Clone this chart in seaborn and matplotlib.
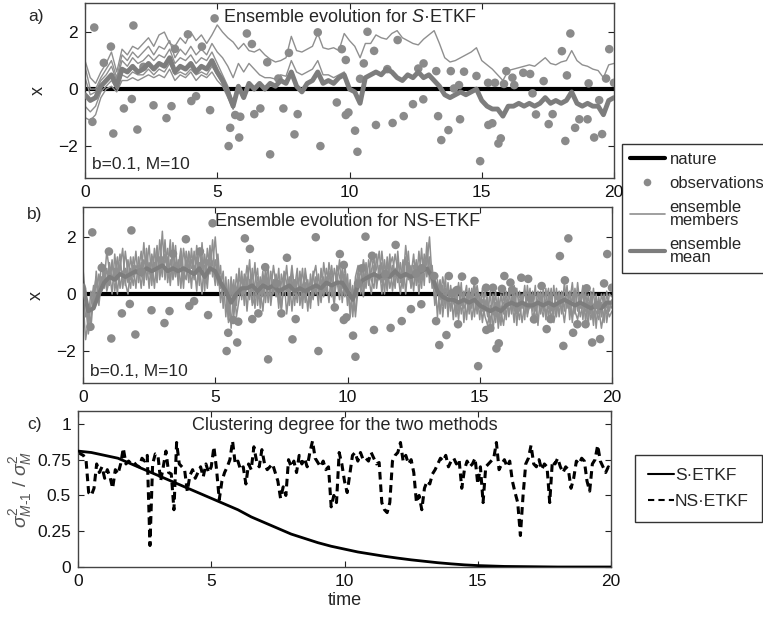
import numpy as np
import pandas as pd
import seaborn as sns
import matplotlib
matplotlib.use("Agg")
import matplotlib.pyplot as plt
from matplotlib.lines import Line2D

sns.set_theme(style="white")
plt.rcParams['font.family'] = ['Liberation Sans', 'DejaVu Sans']
plt.rcParams['mathtext.fontset'] = 'custom'
plt.rcParams['mathtext.rm'] = 'Liberation Sans'
plt.rcParams['mathtext.it'] = 'Liberation Sans:italic'

# ---------------- data ----------------
nature_t = [0.0, 20.0]
nature_x = [0.0, 0.0]

obs_t = [0.28, 0.35, 0.71, 0.98, 1.07, 1.47, 1.77, 1.83, 1.98, 2.21, 2.59, 3.08, 3.27, 3.40,
         3.89, 4.02, 4.20, 4.42, 4.73, 4.90, 5.43, 5.49, 5.68, 5.83, 5.87, 6.12, 6.31, 6.40,
         6.63, 6.89, 7.00, 7.31, 7.50, 7.71, 7.92, 8.04, 8.80, 8.90, 9.52, 9.71, 9.86, 9.86,
         9.96, 10.21, 10.30, 10.40, 10.54, 10.68, 10.93, 11.00, 11.43, 11.63, 11.82, 12.05,
         12.40, 12.60, 12.79, 12.80, 13.28, 13.35, 13.47, 13.74, 13.83, 13.95, 14.14, 14.18,
         14.33, 14.80, 14.94, 15.24, 15.25, 15.40, 15.50, 15.63, 15.72, 15.84, 15.93, 16.16,
         16.23, 16.57, 16.83, 16.92, 17.05, 17.34, 17.53, 17.68, 18.03, 18.16, 18.22, 18.35,
         18.53, 18.69, 19.00, 19.04, 19.25, 19.44, 19.55, 19.70, 19.82, 20.00]
obs_x = [-1.15, 2.16, 0.92, 1.49, -1.56, -0.68, -0.35, 2.23, -1.42, 0.78, -0.57, -1.02, -0.60, 1.41,
         1.92, -0.42, -0.25, 1.49, -0.74, 2.48, -2.00, -1.36, -0.91, -1.70, -0.97, 1.95, 1.58, -0.88,
         -0.68, 0.94, -2.29, 0.37, -0.68, 1.27, -1.59, -0.88, 1.99, -2.00, -0.47, 1.40, 1.02, -0.91,
         -0.82, -1.46, -2.20, 0.36, 0.90, 2.01, 1.34, -1.26, 0.70, -1.19, 1.72, -0.95,
         -0.53, 0.72, -0.36, 0.90, 0.63, -0.95, -1.79, -1.44, 0.63, 0.02, 0.14, -1.06,
         0.61, 0.46, -2.53, 0.22, -1.26, -1.20, 0.22, -1.91, -1.73, 0.18, 0.63, 0.40,
         0.14, 0.57, 0.53, -0.15, -0.89, 0.28, -1.23, -0.88, 1.33, -1.82, 0.48, 1.95,
         -1.36, -1.06, -1.06, 0.20, -1.70, -0.39, -1.58, 0.37, 1.40, 0.22]

# S-ETKF ensemble (panel a), sampled every 0.2 time units
sa_mean = [-0.2, -0.4, -0.3, 0.1, 0.3, 0.5, 0.1, 0.7, 0.6, 0.8,
           0.6, 0.7, 0.9, 0.7, 0.9, 0.8, 1.1, 0.6, 0.8, 0.7,
           0.9, 0.6, 0.8, 0.7, 1.0, 0.6, 0.3, -0.1, -0.6, 0.1,
           -0.3, 0.2, 0.0, 0.2, 0.0, 0.2, 0.1, 0.3, 0.2, 0.6,
           0.1, -0.1, 0.2, 0.3, 0.6, 0.2, 0.3, 0.2, 0.4, 0.5,
           0.0, -0.1, -0.5, 0.4, 0.5, 0.6, 0.5, 0.7, 0.6, 0.4,
           0.3, 0.5, 0.4, 0.6, 0.4, 0.5, 0.3, 0.1, -0.2, -0.3,
           -0.2, -0.1, -0.2, -0.1, 0.0, -0.4, -0.6, -0.7, -0.7, -0.95,
           -0.6, -0.6, -0.5, -0.6, -0.5, -0.6, -0.5, -0.3, -0.5, -0.4,
           -0.5, -0.4, -0.1, -0.5, -0.6, -0.5, -0.6, -0.6, -0.9, -0.4,
           -0.3]
sa_member1 = [1.0, 0.4, 0.2, 0.6, 0.9, 1.3, 0.6, 1.4, 1.2, 1.5,
              1.4, 1.6, 1.8, 1.5, 1.9, 2.0, 1.6, 1.5, 1.8, 1.6,
              2.0, 1.7, 1.9, 1.6, 1.9, 2.25, 2.0, 1.8, 1.65, 1.4,
              1.6, 1.35, 1.3, 1.4, 1.2, 1.05, 0.95, 1.0, 1.1, 1.85,
              1.35, 1.3, 1.4, 1.5, 1.95, 1.45, 1.4, 1.45, 1.35, 1.95,
              1.7, 1.5, 1.1, 1.6, 1.6, 1.9, 1.8, 1.75, 1.95, 2.05,
              1.8, 1.7, 1.6, 1.55, 1.75, 1.9, 2.05, 1.6, 1.1, 0.95,
              1.0, 1.1, 1.2, 1.3, 1.45, 1.0, 0.85, 0.7, 0.5, 0.3,
              0.65, 0.7, 0.75, 0.8, 0.85, 0.8, 0.95, 1.1, 0.9, 0.85,
              0.95, 1.0, 1.35, 1.0, 0.85, 0.8, 0.7, 0.65, 0.4, 0.85,
              0.9]
sa_member2 = [0.8, 0.0, 0.0, 0.4, 0.7, 1.0, 0.4, 1.2, 1.0, 1.3,
              1.1, 1.3, 1.5, 1.2, 1.5, 1.4, 1.7, 1.1, 1.4, 1.2,
              1.5, 1.2, 1.4, 1.2, 1.6, 1.3, 1.1, 0.8, 0.4, 0.9,
              0.6, 0.9, 0.7, 0.5, 0.4, 0.4, 0.35, 0.5, 0.45, 1.0,
              0.6, 0.5, 0.6, 0.7, 1.0, 0.5, 0.5, 0.4, 0.5, 0.6,
              0.0]
sa_member3 = [-1.0, -1.1, -0.9, -0.3, 0.0, 0.1, -0.1, 0.3, 0.3, 0.4,
              0.3, 0.4, 0.5, 0.4, 0.5, 0.4, 0.7, 0.3, 0.5, 0.4,
              0.6, 0.3, 0.5, 0.4, 0.6, 0.3, 0.1, -0.3, -0.7, 0.0, -0.3]
sa_member4 = [0.4, -0.2, -0.1, 0.3, 0.5, 0.8, 0.3, 1.0, 0.8, 1.1,
              0.9, 1.0, 1.2, 1.0, 1.2, 1.1, 1.4, 0.9, 1.1, 1.0,
              1.2, 0.9, 1.1, 1.0, 1.3, 0.9, 0.5, 0.1, -0.5, 0.1, -0.3]
sa_member5 = [-0.6, -0.8, -0.6, -0.1, 0.1, 0.3, 0.0, 0.5, 0.4, 0.6,
              0.5, 0.5, 0.7, 0.5, 0.7, 0.6, 0.9, 0.5, 0.6, 0.5,
              0.7, 0.5, 0.6, 0.5, 0.8, 0.5, 0.2, -0.2, -0.7, 0.1, -0.3]

# NS-ETKF ensemble (panel b), members sampled every 0.1, mean every 0.2
nb_member1 = [0.9, -0.3, -1.4, -0.8, -0.2, 0.4, -0.1, 0.6, 0.2, 0.9,
              0.3, 1.2, 0.1, 0.8, 1.4, 0.2, 0.9, 0.4, 1.3, 0.6,
              1.5, 0.4, 1.1, 0.3, 1.6, 0.7, 1.2, 0.2, 1.4, 0.8,
              2.2, 0.5, 1.3, 0.4, 1.5, 0.6, 1.2, 0.2, 1.6, 0.9,
              1.3, 0.2, 1.5, 0.7, 1.1, 0.0, 1.4, 0.5, 1.7, 0.6,
              1.2, 0.3, 1.0, -0.5, 0.6, -0.9, 0.4, -0.6, 0.7, 0.0,
              0.8, -0.4, 0.6, -0.2, 0.9, -0.5, 0.4, 0.0, 0.8, -0.3,
              0.7, -0.4, 0.5, -0.1, 0.9, -0.5, 0.3, 0.1, 0.6, -0.6,
              0.5, -0.3, 0.8, -0.2, 0.4, -0.6, 0.7, 0.0, 0.5, -0.4,
              0.9, 0.0, 0.6, -0.3, 1.0, 0.1, 0.5, -0.2, 0.8, 0.2,
              0.4, -0.6, 0.3, -0.8, 0.2, 0.9, 0.1, 1.1, 0.3, 0.8,
              1.3, 0.2, 1.0, 0.0, 1.2, 0.3, 1.4, 0.1, 0.9, 0.4,
              1.1, 0.2, 1.3, 0.5, 1.0, 0.1, 1.2, 0.4, 1.6, 0.3,
              1.8, 0.4, 0.9, -0.2, 0.5, -0.7, 0.3, -0.5, 0.4, -0.6,
              0.2, -0.8, 0.3, -0.4, 0.1, -0.9, 0.2, -0.5, 0.3, -0.7,
              0.0, -1.0, -0.2, -0.8, 0.1, -1.3, -0.3, -0.9, 0.0, -0.7,
              0.1, -0.8, -0.1, -1.0, 0.2, -0.6, 0.0, -0.9, 0.3, -0.5,
              0.1, -1.0, -0.2, -0.7, 0.2, -0.9, 0.0, -0.6, 0.3, -0.8,
              0.0, -0.7, 0.4, -0.5, 0.1, -1.0, 0.2, -0.6, 0.0, -0.9,
              0.1, -0.8, -0.2, -1.1, 0.0, -0.7, -0.3, -1.0, 0.1, -0.6,
              -0.2]
nb_member2 = [-0.2, -1.6, -0.9, 0.1, -0.5, 0.8, 0.0, 1.1, 0.4, 1.5,
              0.8, 0.0, 1.4, 0.5, 0.9, 1.6, 0.3, 1.2, 0.5, 1.0,
              0.2, 1.3, 0.6, 1.8, 0.5, 1.1, 0.3, 1.6, 0.7, 1.3,
              0.6, 1.9, 0.4, 1.2, 0.7, 1.7, 0.3, 1.4, 0.5, 1.2,
              0.4, 1.6, 0.6, 1.3, 0.3, 1.8, 0.4, 1.2, 0.7, 1.9,
              0.5, 1.4, 0.2, 0.8, -0.8, 0.5, -1.2, 0.3, -0.4, 0.9,
              -0.2, 0.7, -0.6, 0.5, 0.1, 1.1, -0.4, 0.6, -0.1, 0.9,
              -0.3, 0.8, 0.0, 0.6, -0.5, 0.7, 0.2, 1.0, -0.2, 0.5,
              -0.4, 0.6, 0.1, 0.9, -0.3, 0.5, -0.5, 0.8, 0.0, 0.7,
              -0.2, 1.1, 0.3, 0.8, -0.1, 0.9, 0.4, 1.2, -0.3, 0.7,
              -0.4, 0.5, -0.8, 0.6, 1.0, 0.0, 0.8, 0.2, 1.2, 0.5,
              0.2, 1.4, 0.5, 1.1, 0.0, 1.3, 0.6, 1.0, 0.2, 1.5,
              0.4, 1.2, 0.0, 1.1, 0.6, 1.4, 0.3, 1.5, 0.5, 1.2,
              0.6, 1.3, 0.2, 0.6, -0.8, 0.4, -0.4, 0.6, -0.8, 0.3,
              -0.9, 0.1, -0.6, 0.4, -1.0, 0.0, -0.5, 0.2, -0.8, 0.1,
              -0.9, 0.2, -0.6, -0.1, -1.2, 0.0, -0.8, -0.3, -1.1, 0.1,
              -0.9, 0.2, -0.7, 0.0, -1.1, 0.1, -0.5, 0.3, -0.8, 0.0,
              -0.6, 0.3, -1.1, 0.0, -0.6, 0.2, -0.9, 0.1, -0.7, 0.2,
              -0.8, 0.1, -0.6, 0.3, -0.9, 0.0, -0.7, 0.4, -0.5, 0.1,
              -1.0, 0.0, -0.7, 0.2, -1.2, -0.1, -0.8, 0.0, -1.0, -0.3,
              -0.5]
nb_member3 = [0.5, 0.2, -1.1, -0.4, 0.3, -0.2, 0.7, 0.1, 1.0, 0.2,
              1.1, 0.5, 0.9, 0.0, 1.1, 0.5, 1.5, 0.7, 0.2, 1.3,
              0.7, 1.0, 0.2, 1.2, 0.9, 1.7, 0.5, 1.1, 0.4, 1.9,
              1.0, 1.4, 0.8, 1.9, 0.5, 1.0, 0.9, 1.6, 0.8, 0.5,
              1.5, 0.9, 1.0, 0.1, 1.6, 0.9, 1.0, 0.2, 1.4, 1.0,
              2.0, 0.7, 0.6, 0.1, 0.3, -0.5, 0.6, -0.8, 0.2, 0.5,
              0.4, 0.2, 1.0, 0.3, -0.3, 0.4, 0.9, -0.5, 0.5, 0.3,
              0.4, 0.1, 1.0, 0.3, 0.2, -0.6, 0.8, 0.4, -0.4, 0.8,
              0.2, 0.9, -0.4, 0.3, 0.7, 0.1, -0.3, 0.6, 1.0, 0.1,
              0.5, -0.1, 0.9, 0.4, 0.3, -0.4, 1.0, 0.6, 0.2, 1.0,
              0.1, 0.3, -0.2, -0.6, 0.6, 0.3, 1.2, 0.7, 0.5, 1.4,
              0.6, 0.9, 1.5, 0.4, 0.8, 0.1, 1.0, 1.3, 0.6, 1.1,
              0.7, 0.4, 1.7, 0.8, 0.3, 1.0, 0.7, 0.9, 0.2, 1.4,
              1.0, 2.0, 0.5, 0.2, 0.3, -0.2, 0.6, 0.0, -0.4, 0.2,
              -0.3, -0.5, 0.4, -0.7, -0.2, 0.3, -0.7, -0.1, 0.4, -0.4,
              -0.5, -0.2, -0.8, -1.1, -0.4, -0.7, 0.1, -1.2, -0.5, -0.3,
              -0.5, -0.2, 0.2, -0.6, -0.3, -0.9, -0.2, 0.1, -0.7, -0.4,
              -0.3, -0.6, 0.1, -0.4, -0.8, -0.2, 0.2, -0.9, -0.4, -0.1,
              -0.4, -0.5, -0.2, 0.2, -0.5, -0.8, -0.1, 0.0, -0.8, -0.4,
              -0.6, -0.3, -0.9, -0.4, -0.6, -0.9, 0.0, -0.4, -0.7, 0.0,
              -0.1]
nb_member4 = [0.0, -0.8, -0.5, -1.2, 0.0, 0.6, -0.4, 0.5, 0.8, 0.1,
              0.5, 1.0, 0.6, 1.3, 0.2, 0.8, 0.4, 0.0, 0.9, 0.3,
              1.0, 0.8, 1.5, 0.4, 1.3, 0.2, 1.4, 0.9, 1.7, 0.5,
              1.3, 1.1, 1.6, 0.3, 1.8, 1.0, 0.6, 1.2, 0.2, 1.5,
              0.9, 1.2, 0.5, 1.7, 0.6, 1.3, 0.1, 1.6, 0.9, 1.1,
              0.3, 1.0, -0.3, 0.4, 0.2, -1.0, 0.0, 0.5, -0.8, -0.2,
              0.6, 0.0, 0.3, 1.2, -0.4, -0.1, 0.6, 0.2, -0.6, 0.5,
              0.9, -0.2, 0.3, 0.7, -0.3, 0.4, 0.6, -0.7, 0.2, 1.0,
              0.0, 0.4, 0.6, -0.5, 0.9, 0.2, 0.4, -0.2, 0.6, 0.3,
              -0.3, 0.6, 0.0, 1.1, 0.5, -0.2, 0.7, 0.1, 0.9, -0.1,
              0.7, -0.8, 0.1, 0.2, 0.8, 0.4, -0.1, 0.9, 0.6, 0.0,
              1.0, 0.4, 0.6, 1.5, 0.5, 1.1, 0.2, 0.7, 1.4, 0.8,
              0.0, 0.9, 0.6, 1.5, 0.2, 0.7, 1.1, 0.0, 1.0, 0.8,
              1.4, 0.9, 1.0, -0.4, 0.1, 0.5, -0.8, 0.2, 0.0, -0.5,
              0.0, -0.2, -0.9, 0.2, -0.5, -0.3, 0.1, -0.9, -0.2, 0.3,
              -0.3, -0.6, 0.1, -0.4, -0.9, -0.6, -1.0, -0.1, -0.6, -1.1,
              -0.2, -0.6, -0.4, 0.3, -0.7, -0.2, -1.0, -0.3, -0.5, 0.2,
              -0.9, -0.4, -0.2, 0.1, -0.4, -0.6, -0.5, 0.2, -1.0, -0.5,
              0.1, -0.3, -1.0, -0.2, -0.3, 0.4, -0.6, -0.9, -0.3, 0.3,
              -0.4, -1.1, 0.1, -0.8, -0.3, -0.5, -1.2, -0.6, -0.4, -0.8,
              -0.6]
nb_mean = [0.3, -0.6, -0.5, 0.0, 0.4, 0.6, 0.5, 0.7, 0.6, 0.7,
           0.8, 0.7, 0.9, 0.8, 0.9, 1.0, 0.8, 0.9, 0.8, 0.9,
           0.8, 0.7, 0.9, 0.6, 0.9, 0.8, 0.4, 0.1, -0.3, 0.0,
           0.2, 0.2, 0.3, 0.1, 0.3, 0.2, 0.3, 0.1, 0.2, 0.3,
           0.1, 0.2, 0.1, 0.2, 0.3, 0.2, 0.4, 0.3, 0.4, 0.4,
           0.1, -0.2, 0.3, 0.5, 0.6, 0.7, 0.6, 0.7, 0.6, 0.8,
           0.6, 0.7, 0.6, 0.7, 0.8, 0.9, 0.6, 0.1, -0.1, -0.2,
           -0.2, -0.3, -0.2, -0.3, -0.2, -0.4, -0.5, -0.6, -0.5, -0.6,
           -0.4, -0.3, -0.4, -0.3, -0.4, -0.4, -0.3, -0.4, -0.3, -0.4,
           -0.3, -0.2, -0.3, -0.4, -0.3, -0.4, -0.5, -0.4, -0.5, -0.3,
           -0.3]

# clustering degree (panel c)
s_etkf_cd = [0.81, 0.80, 0.78, 0.76, 0.72, 0.68, 0.64, 0.60, 0.56, 0.52,
             0.48, 0.44, 0.40, 0.35, 0.31, 0.27, 0.23, 0.20, 0.17, 0.145,
             0.125, 0.105, 0.09, 0.075, 0.062, 0.05, 0.04, 0.03, 0.022, 0.015,
             0.01, 0.007, 0.004, 0.003, 0.002, 0.001, 0.0, 0.0, 0.0, 0.0,
             0.0]  # every 0.5
ns_etkf_cd = [0.80, 0.79, 0.78, 0.75, 0.52, 0.50, 0.55, 0.72, 0.66, 0.70,
              0.62, 0.68, 0.63, 0.55, 0.68, 0.65, 0.72, 0.83, 0.72, 0.74,
              0.72, 0.73, 0.71, 0.70, 0.76, 0.74, 0.78, 0.15, 0.72, 0.79,
              0.78, 0.60, 0.70, 0.81, 0.66, 0.65, 0.40, 0.87, 0.72, 0.70,
              0.68, 0.53, 0.64, 0.68, 0.62, 0.66, 0.70, 0.63, 0.72, 0.66,
              0.70, 0.84, 0.68, 0.47, 0.60, 0.66, 0.70, 0.75, 0.88, 0.72,
              0.74, 0.68, 0.70, 0.58, 0.72, 0.68, 0.84, 0.74, 0.70, 0.82,
              0.72, 0.68, 0.70, 0.72, 0.66, 0.60, 0.48, 0.56, 0.50, 0.75,
              0.70, 0.74, 0.66, 0.78, 0.72, 0.76, 0.70, 0.80, 0.88, 0.76,
              0.73, 0.70, 0.74, 0.68, 0.70, 0.42, 0.50, 0.45, 0.80, 0.72,
              0.60, 0.52, 0.65, 0.78, 0.80, 0.74, 0.80, 0.75, 0.76, 0.74,
              0.80, 0.76, 0.72, 0.73, 0.45, 0.40, 0.38, 0.45, 0.74, 0.78,
              0.80, 0.87, 0.74, 0.78, 0.72, 0.75, 0.66, 0.45, 0.50, 0.40,
              0.55, 0.60, 0.58, 0.65, 0.68, 0.72, 0.76, 0.74, 0.78, 0.70,
              0.74, 0.76, 0.72, 0.75, 0.55, 0.68, 0.74, 0.70, 0.72, 0.76,
              0.58, 0.70, 0.45, 0.70, 0.72, 0.74, 0.76, 0.87, 0.68, 0.72,
              0.75, 0.70, 0.74, 0.60, 0.52, 0.45, 0.22, 0.50, 0.72, 0.76,
              0.85, 0.72, 0.70, 0.75, 0.68, 0.72, 0.70, 0.45, 0.74, 0.72,
              0.76, 0.70, 0.66, 0.70, 0.68, 0.55, 0.62, 0.74, 0.72, 0.76,
              0.74, 0.60, 0.53, 0.72, 0.75, 0.85, 0.74, 0.70, 0.66, 0.70,
              0.68]  # every 0.1

x_ticks = [0, 5, 10, 15, 20]
ab_yticks = [-2, 0, 2]
c_yticks = [0, 0.25, 0.5, 0.75, 1]
c_yticklabels = ['0', '0.25', '0.5', '0.75', '1']

# ---------------- styling ----------------
OBS_C = '#8a8a8a'
MEM_C = '#8f8f8f'
MEAN_C = '#7d7d7d'
W, H = 763, 617


def times(vals, step):
    return np.round(np.arange(len(vals)) * step, 2)


def line(ax, vals, step, **kw):
    sns.lineplot(x=times(vals, step), y=vals, ax=ax, estimator=None,
                 sort=False, legend=False, **kw)


def style(ax, ylim, yticks, ylabels=None):
    ax.set_xlim(0, 20)
    ax.set_ylim(*ylim)
    ax.set_xticks(x_ticks)
    ax.set_xticklabels([str(v) for v in x_ticks])
    ax.set_yticks(yticks)
    if ylabels is not None:
        ax.set_yticklabels(ylabels)
    ax.tick_params(direction='in', top=True, right=True, bottom=True, left=True,
                   length=4, width=0.8, labelsize=12.5, pad=5,
                   colors='#222222', labelcolor='#111111')
    for sp in ax.spines.values():
        sp.set_visible(True)
        sp.set_color('#444444')
        sp.set_linewidth(1.0)
    ax.set_xlabel('')
    ax.set_ylabel('')


def axpos(l, r, t, b):
    return [l / W, 1 - b / H, (r - l) / W, (b - t) / H]


fig = plt.figure(figsize=(W / 100, H / 100), dpi=100)
ax_a = fig.add_axes(axpos(85, 614, 3, 178))
ax_b = fig.add_axes(axpos(83, 612, 207, 383))
ax_c = fig.add_axes(axpos(78, 611, 411, 567))

# ---- panel a ----
sns.lineplot(x=nature_t, y=nature_x, ax=ax_a, color='black', linewidth=3, zorder=1)
for m in [sa_member3, sa_member5, sa_member4, sa_member2, sa_member1]:
    line(ax_a, m, 0.2, color=MEM_C, linewidth=1.0, zorder=2)
sns.scatterplot(x=obs_t, y=obs_x, ax=ax_a, color=OBS_C, s=38, edgecolor='none',
                zorder=3, legend=False)
line(ax_a, sa_mean, 0.2, color=MEAN_C, linewidth=3.5, zorder=4)
style(ax_a, (-3.12, 3.02), ab_yticks)
ax_a.set_ylabel('x', fontsize=13, labelpad=8)
ax_a.text(0.5, 0.965, 'Ensemble evolution for $\\it{S}$\u00b7ETKF', transform=ax_a.transAxes,
          ha='center', va='top', fontsize=13)
ax_a.text(0.013, 0.05, 'b=0.1, M=10', transform=ax_a.transAxes, ha='left',
          va='baseline', fontsize=12.5)

# ---- panel b ----
sns.lineplot(x=nature_t, y=nature_x, ax=ax_b, color='black', linewidth=3, zorder=1)
for m in [nb_member1, nb_member2, nb_member3, nb_member4]:
    line(ax_b, m, 0.1, color=MEM_C, linewidth=1.1, zorder=2)
line(ax_b, nb_mean, 0.2, color=MEAN_C, linewidth=3.0, zorder=3)
sns.scatterplot(x=obs_t, y=obs_x, ax=ax_b, color=OBS_C, s=38, edgecolor='none',
                zorder=4, legend=False)
style(ax_b, (-3.12, 3.05), ab_yticks)
ax_b.set_ylabel('x', fontsize=13, labelpad=8)
ax_b.text(0.5, 0.965, 'Ensemble evolution for NS-ETKF', transform=ax_b.transAxes,
          ha='center', va='top', fontsize=13)
ax_b.text(0.013, 0.04, 'b=0.1, M=10', transform=ax_b.transAxes, ha='left',
          va='baseline', fontsize=12.5)

# ---- panel c ----
line(ax_c, s_etkf_cd, 0.5, color='black', linewidth=2.0, zorder=3)
line(ax_c, ns_etkf_cd, 0.1, color='black', linewidth=2.2, linestyle=(0, (2.5, 1.6)), zorder=2)
style(ax_c, (0, 1.09), c_yticks, c_yticklabels)
ax_c.set_xlabel('time', fontsize=13, labelpad=2)
ax_c.set_ylabel('$\\sigma^2_{M\\text{-}1}$ / $\\sigma^2_M$', fontsize=14, labelpad=2,
                color='#555555')
ax_c.text(0.5, 0.96, 'Clustering degree for the two methods', transform=ax_c.transAxes,
          ha='center', va='top', fontsize=13)

# panel letters
fig.text(28 / W, 1 - 16 / H, 'a)', fontsize=12.5, va='center', ha='left')
fig.text(27 / W, 1 - 215 / H, 'b)', fontsize=12.5, va='center', ha='left')
fig.text(27 / W, 1 - 425 / H, 'c)', fontsize=12.5, va='center', ha='left')

# legends
h1 = [Line2D([], [], color='black', lw=3),
      Line2D([], [], color=OBS_C, marker='o', ls='none', markersize=5.5, markeredgewidth=0),
      Line2D([], [], color=MEM_C, lw=1.2),
      Line2D([], [], color=MEAN_C, lw=3)]
l1 = ['nature', 'observations', 'ensemble\nmembers', 'ensemble\nmean']
leg1 = fig.legend(h1, l1, loc='upper left', bbox_to_anchor=(622 / W, 1 - 144 / H),
                  frameon=True, fancybox=False, edgecolor='black', fontsize=12,
                  handlelength=2.15, handletextpad=0.25, labelspacing=0.55,
                  borderpad=0.45, borderaxespad=0)
leg1.get_frame().set_linewidth(1.0)
for t in leg1.get_texts():
    t.set_linespacing(0.85)

h2 = [Line2D([], [], color='black', lw=1.5),
      Line2D([], [], color='black', lw=1.5, ls=(0, (3, 2)))]
leg2 = fig.legend(h2, ['S\u00b7ETKF', 'NS\u00b7ETKF'], loc='upper left',
                  bbox_to_anchor=(635 / W, 1 - 455 / H), frameon=True, fancybox=False,
                  edgecolor='black', fontsize=12.5, handlelength=1.5, handletextpad=0.05,
                  labelspacing=0.6, borderpad=0.75, borderaxespad=0)
leg2.get_frame().set_linewidth(1.0)

fig.savefig('out.png', dpi=100)
